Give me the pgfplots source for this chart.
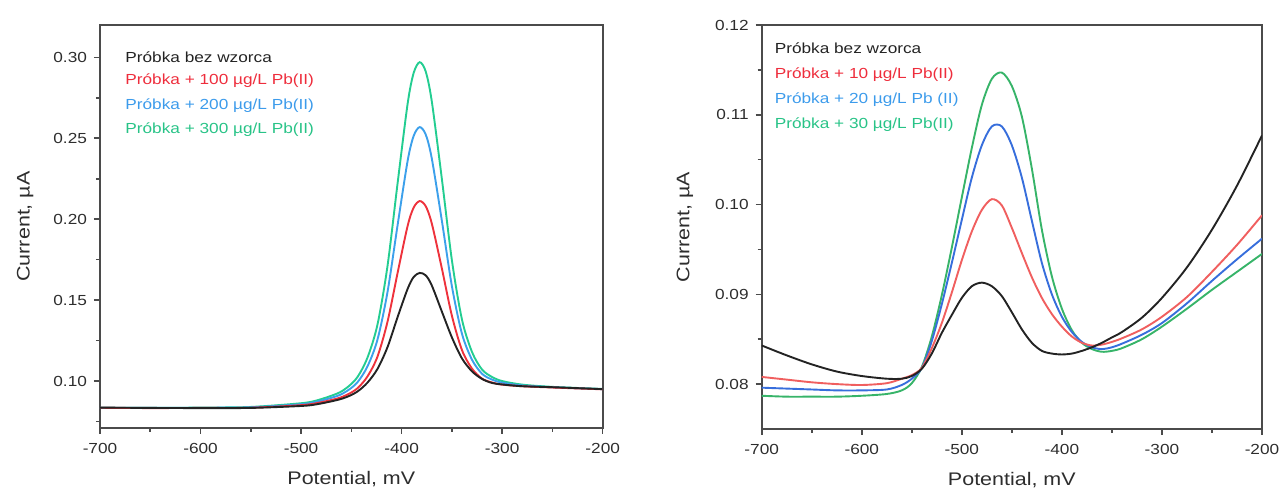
\documentclass[border=0pt]{standalone}
\usepackage{fontspec}
\setmainfont{Liberation Sans}[FakeStretch=1.18]
\usepackage{pgfplots}
\usepackage{pgfplotstable}
\pgfplotsset{compat=1.18}

\definecolor{axgray}{RGB}{75,75,75}
\definecolor{tickgray}{RGB}{45,45,45}
\definecolor{cK}{RGB}{35,35,35}
\definecolor{cR}{RGB}{238,50,60}
\definecolor{cB}{RGB}{60,160,235}
\definecolor{cG}{RGB}{35,205,145}
\definecolor{rR}{RGB}{240,95,95}
\definecolor{rB}{RGB}{55,110,220}
\definecolor{rG}{RGB}{55,180,105}
\definecolor{lR}{RGB}{238,45,60}
\definecolor{lB}{RGB}{60,155,235}
\definecolor{lG}{RGB}{40,195,135}

\pgfplotstableread{
x k r b g
-700 0.0836 0.0835 0.0835 0.0835
-650 0.0834 0.0833 0.0834 0.0834
-600 0.0833 0.0834 0.0835 0.0836
-550 0.0834 0.0835 0.0838 0.0840
-500 0.0846 0.0851 0.0857 0.0863
-484 0.0857 0.0864 0.0873 0.0881
-464 0.0883 0.0892 0.0908 0.0923
-454 0.0903 0.0916 0.0940 0.0961
-444 0.0935 0.0955 0.0992 0.1024
-434 0.0990 0.1028 0.1090 0.1144
-424 0.1075 0.1151 0.1256 0.1349
-414 0.1210 0.1367 0.1551 0.1712
-404 0.1395 0.1668 0.1963 0.2222
-394 0.1570 0.1959 0.2361 0.2714
-388 0.1643 0.2072 0.2515 0.2904
-382 0.1668 0.2112 0.2569 0.2970
-376 0.1653 0.2080 0.2523 0.2912
-370 0.1591 0.1974 0.2376 0.2729
-360 0.1430 0.1697 0.1992 0.2251
-350 0.1270 0.1404 0.1587 0.1747
-340 0.1140 0.1192 0.1293 0.1381
-330 0.1060 0.1077 0.1132 0.1180
-320 0.1013 0.1015 0.1045 0.1071
-310 0.0988 0.0991 0.1009 0.1025
-300 0.0979 0.0978 0.0990 0.1000
-280 0.0968 0.0968 0.0973 0.0978
-250 0.0962 0.0960 0.0962 0.0964
-200 0.0950 0.0949 0.0950 0.0951
}\lefttable

\pgfplotstableread{
x k r b g
-700 0.0843 0.0808 0.0796 0.0787
-675 0.0832 0.0805 0.0795 0.0786
-650 0.0822 0.0802 0.0794 0.0786
-625 0.0814 0.0800 0.0793 0.0786
-600 0.0809 0.0799 0.0793 0.0787
-575 0.0806 0.0801 0.0794 0.0789
-560 0.0806 0.0806 0.0799 0.0793
-550 0.0809 0.0810 0.0806 0.0801
-540 0.0817 0.0818 0.0818 0.0819
-530 0.0834 0.0840 0.0848 0.0853
-520 0.0857 0.0868 0.0889 0.0899
-510 0.0877 0.0902 0.0935 0.0952
-500 0.0896 0.0938 0.0983 0.1008
-490 0.0909 0.0970 0.1030 0.1063
-480 0.0913 0.0994 0.1066 0.1111
-470 0.0909 0.1006 0.1087 0.1140
-460 0.0898 0.0999 0.1087 0.1147
-450 0.0880 0.0974 0.1066 0.1132
-440 0.0861 0.0946 0.1030 0.1098
-430 0.0846 0.0919 0.0982 0.1040
-420 0.0837 0.0896 0.0935 0.0972
-410 0.0834 0.0878 0.0900 0.0920
-400 0.0833 0.0864 0.0875 0.0884
-390 0.0834 0.0853 0.0858 0.0860
-380 0.0837 0.0846 0.0847 0.0846
-370 0.0841 0.0843 0.0841 0.0839
-360 0.0846 0.0844 0.0839 0.0836
-350 0.0852 0.0847 0.0841 0.0837
-340 0.0858 0.0851 0.0845 0.0840
-320 0.0874 0.0861 0.0855 0.0850
-300 0.0896 0.0875 0.0868 0.0864
-275 0.0930 0.0897 0.0890 0.0884
-250 0.0972 0.0925 0.0915 0.0905
-225 0.1021 0.0955 0.0939 0.0925
-200 0.1077 0.0988 0.0962 0.0945
}\righttable

\pgfplotsset{
 myax/.style={
  scale only axis,
  anchor=south west,
  xmin=-700, xmax=-200,
  xtick={-700,-600,-500,-400,-300,-200},
  xticklabels={-700,-600,-500,-400,-300,-200},
  minor xtick={-650,-550,-450,-350,-250},
  tick align=outside,
  tick pos=left,
  axis line style={draw=axgray, line width=1pt},
  major tick length=3pt,
  minor tick length=2pt,
  every tick/.style={draw=axgray, line width=0.8pt},
  ticklabel style={font=\fontsize{7.3}{8}\selectfont, text=tickgray},
  xticklabel style={yshift=-1pt},
  label style={font=\fontsize{9.1}{10}\selectfont, text=tickgray},
  xlabel={Potential, mV},
  ylabel={Current, µA},
  every axis plot/.append style={line width=0.95pt, smooth, no markers},
 }
}

\begin{document}
\begin{tikzpicture}[x=1pt,y=1pt]
\useasboundingbox (0,0) rectangle (641,245);

\begin{axis}[myax,
  at={(50pt,31pt)}, width=251.35pt, height=201.5pt,
  ymin=0.071, ymax=0.32,
  ytick={0.10,0.15,0.20,0.25,0.30},
  yticklabels={0.10,0.15,0.20,0.25,0.30},
  minor ytick={0.075,0.125,0.175,0.225,0.275},
  xlabel style={at={(axis description cs:0.5,-0.1266)}, anchor=center},
  ylabel style={at={(axis description cs:-0.149,0.5)}, anchor=center},
]
\addplot[cG] table[x=x,y=g] {\lefttable};
\addplot[cB] table[x=x,y=b] {\lefttable};
\addplot[cR] table[x=x,y=r] {\lefttable};
\addplot[cK] table[x=x,y=k] {\lefttable};
\end{axis}

\begin{axis}[myax,
  at={(380.85pt,30.5pt)}, width=250.15pt, height=202pt,
  ymin=0.075, ymax=0.12,
  ytick={0.08,0.09,0.10,0.11,0.12},
  yticklabels={0.08,0.09,0.10,0.11,0.12},
  minor ytick={0.085,0.095,0.105,0.115},
  xlabel style={at={(axis description cs:0.5,-0.126)}, anchor=center},
  ylabel style={at={(axis description cs:-0.1533,0.5)}, anchor=center},
]
\addplot[rG] table[x=x,y=g] {\righttable};
\addplot[rB] table[x=x,y=b] {\righttable};
\addplot[rR] table[x=x,y=r] {\righttable};
\addplot[cK] table[x=x,y=k] {\righttable};
\end{axis}

\begin{scope}[every node/.style={anchor=west, inner sep=0pt, font=\fontsize{7.3}{8}\selectfont}]
\node[text=cK] at (62.5,216.6) {Próbka bez wzorca};
\node[text=lR] at (62.5,204.5) {Próbka + 100 µg/L Pb(II)};
\node[text=lB] at (62.5,192) {Próbka + 200 µg/L Pb(II)};
\node[text=lG] at (62.5,180) {Próbka + 300 µg/L Pb(II)};
\node[text=cK] at (387.2,220.8) {Próbka bez wzorca};
\node[text=lR] at (387.2,207.5) {Próbka + 10 µg/L Pb(II)};
\node[text=lB] at (387.2,195.3) {Próbka + 20 µg/L Pb (II)};
\node[text=lG] at (387.2,182.8) {Próbka + 30 µg/L Pb(II)};
\end{scope}
\end{tikzpicture}
\end{document}
